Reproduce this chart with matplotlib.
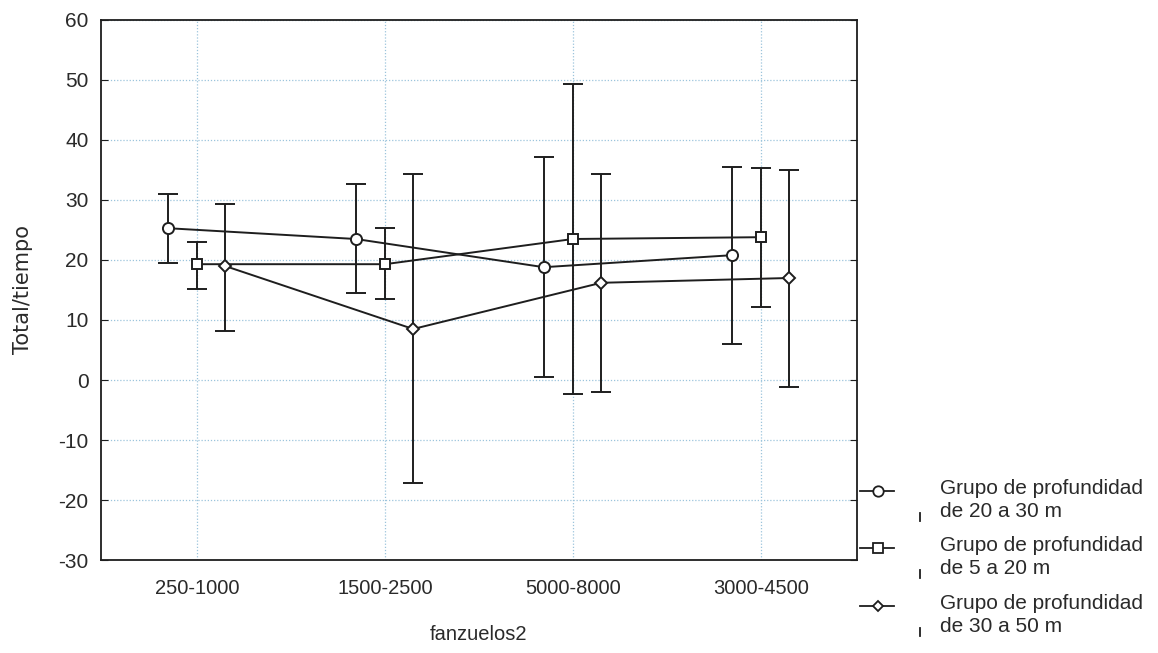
import matplotlib
matplotlib.use("Agg")
import matplotlib.pyplot as plt
from matplotlib.lines import Line2D
import numpy as np

plt.rcParams['font.family'] = ['Liberation Sans', 'DejaVu Sans']
plt.rcParams['axes.unicode_minus'] = False

categories = ["250-1000", "1500-2500", "5000-8000", "3000-4500"]

# Means with upper/lower bounds per depth group
g20_30_mean = [25.3, 23.5, 18.8, 20.8]
g20_30_upper = [31.0, 32.7, 37.2, 35.5]
g20_30_lower = [19.5, 14.5, 0.5, 6.0]

g5_20_mean = [19.3, 19.3, 23.5, 23.8]
g5_20_upper = [23.0, 25.3, 49.3, 35.3]
g5_20_lower = [15.2, 13.5, -2.3, 12.2]

g30_50_mean = [19.0, 8.5, 16.2, 17.0]
g30_50_upper = [29.3, 34.3, 34.3, 35.0]
g30_50_lower = [8.2, -17.2, -2.0, -1.2]

labels = ["Grupo de profundidad\nde 20 a 30 m",
          "Grupo de profundidad\nde 5 a 20 m",
          "Grupo de profundidad\nde 30 a 50 m"]

ink = "#1e1e1e"
txt = "#2a2a2a"

fig = plt.figure(figsize=(11.58, 6.53), dpi=100)
ax = fig.add_axes([0.0872, 0.1424, 0.6528, 0.8270])

x = np.arange(len(categories))
series = [
    (g20_30_mean, g20_30_upper, g20_30_lower, -0.155, dict(marker='o', ms=8)),
    (g5_20_mean, g5_20_upper, g5_20_lower, 0.0, dict(marker='s', ms=7.5)),
    (g30_50_mean, g30_50_upper, g30_50_lower, 0.15, dict(marker='D', ms=5.8)),
]

for mean, up, lo, off, mk in series:
    mean = np.array(mean); up = np.array(up); lo = np.array(lo)
    xs = x + off
    ax.errorbar(xs, mean, yerr=[mean - lo, up - mean], fmt='none',
                ecolor=ink, elinewidth=1.4, capsize=7.5, capthick=1.4, zorder=2)
    ax.plot(xs, mean, color=ink, lw=1.4, marker=mk['marker'], ms=mk['ms'],
            mfc='white', mec=ink, mew=1.4, zorder=3)

ax.set_xlim(-0.51, 3.51)
ax.set_ylim(-30, 60)
ax.set_yticks(np.arange(-30, 61, 10))
ax.set_xticks(x)
ax.set_xticklabels(categories)
ax.grid(True, color="#9cc4dc", linestyle=(0, (1, 1.5)), linewidth=0.9)
ax.set_axisbelow(True)
ax.tick_params(axis='y', direction='in', length=5, right=True, labelsize=15,
               colors=ink, labelcolor=txt, pad=9)
ax.tick_params(axis='x', length=0, labelsize=14.5, labelcolor=txt, pad=14)
for s in ax.spines.values():
    s.set_color(ink)
    s.set_linewidth(1.3)

ax.set_ylabel("Total/tiempo", fontsize=15, color=txt,
              fontfamily=['DejaVu Sans'])
ax.yaxis.set_label_coords(-0.09, 0.5)
ax.set_xlabel("fanzuelos2", fontsize=14.5, color=txt, labelpad=19)

# Legend drawn beside the axes
marker_specs = [('o', 7.5), ('s', 7.5), ('D', 5.2)]
ys = [491, 548, 606]
H = 653.0
W = 1158.0
for (m, ms), yy, lab in zip(marker_specs, ys, labels):
    fy = 1 - yy / H
    fig.add_artist(Line2D([860 / W, 894 / W], [fy, fy], color=ink, lw=1.3,
                          transform=fig.transFigure))
    fig.add_artist(Line2D([878 / W], [fy], marker=m, ms=ms, mfc='white',
                          mec=ink, mew=1.3, transform=fig.transFigure))
    fig.add_artist(Line2D([920 / W, 920 / W], [1 - (yy + 22) / H, 1 - (yy + 30) / H],
                          color=ink, lw=1.3, transform=fig.transFigure))
    fig.text(940 / W, 1 - (yy - 12) / H, lab, fontsize=15, color=txt,
             va='top', ha='left', linespacing=1.27)

fig.savefig("out.png", dpi=100, facecolor='white')
